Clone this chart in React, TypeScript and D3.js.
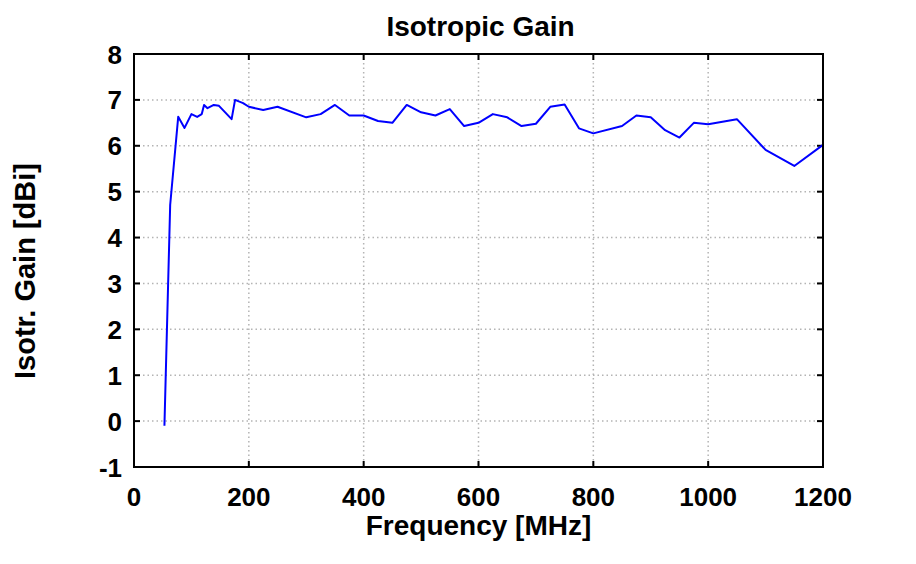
import React from "react";
import * as d3 from "d3";

const freq = [53, 63, 77, 88, 100, 110, 118, 122, 128, 139, 148, 170, 176, 190, 200, 225, 250, 300, 325, 350, 375, 400, 425, 450, 475, 500, 525, 550, 575, 600, 625, 650, 675, 700, 725, 750, 775, 800, 850, 875, 900, 925, 950, 975, 1000, 1050, 1100, 1150, 1200];
const gain = [-0.1, 4.71, 6.63, 6.39, 6.69, 6.63, 6.69, 6.89, 6.82, 6.89, 6.87, 6.58, 7.0, 6.93, 6.85, 6.78, 6.85, 6.62, 6.69, 6.89, 6.66, 6.66, 6.54, 6.5, 6.89, 6.73, 6.66, 6.8, 6.43, 6.5, 6.69, 6.62, 6.43, 6.48, 6.85, 6.9, 6.38, 6.27, 6.43, 6.66, 6.62, 6.34, 6.18, 6.5, 6.47, 6.58, 5.91, 5.56, 6.02];
const xTicks = [0, 200, 400, 600, 800, 1000, 1200];
const yTicks = [-1, 0, 1, 2, 3, 4, 5, 6, 7, 8];
const title = "Isotropic Gain";
const xLabel = "Frequency [MHz]";
const yLabel = "Isotr. Gain [dBi]";

const W = 916, H = 564;
const L = 134, R = 823, T = 54, B = 467;
const FONT = "'Liberation Sans', Arial, sans-serif";

export default function App() {
  const x = d3.scaleLinear().domain([0, 1200]).range([L, R]);
  const y = d3.scaleLinear().domain([-1, 8]).range([B, T]);
  const pts = freq.map((f, i) => [f, gain[i]] as [number, number]);
  const line = d3.line<[number, number]>().x(d => x(d[0])).y(d => y(d[1]));
  const tl = 6;
  return (
    <svg width={W} height={H} style={{ position: "absolute", left: 0, top: 0, background: "#fff" }} fontFamily={FONT}>
      <rect x={0} y={0} width={W} height={H} fill="#fff" />
      {xTicks.slice(1, -1).map(t => (
        <line key={"gx" + t} x1={x(t)} x2={x(t)} y1={T} y2={B} stroke="#b4b4b4" strokeWidth={1.5} strokeDasharray="1.5,3" />
      ))}
      {yTicks.slice(1, -1).map(t => (
        <line key={"gy" + t} x1={L} x2={R} y1={y(t)} y2={y(t)} stroke="#b4b4b4" strokeWidth={1.5} strokeDasharray="1.5,3" />
      ))}
      {xTicks.map(t => (
        <g key={"tx" + t}>
          <line x1={x(t)} x2={x(t)} y1={B} y2={B - tl} stroke="#000" strokeWidth={2} />
          <line x1={x(t)} x2={x(t)} y1={T} y2={T + tl} stroke="#000" strokeWidth={2} />
          <text x={x(t)} y={506} textAnchor="middle" fontSize={26} fontWeight="bold">{t}</text>
        </g>
      ))}
      {yTicks.map(t => (
        <g key={"ty" + t}>
          <line x1={L} x2={L + tl} y1={y(t)} y2={y(t)} stroke="#000" strokeWidth={2} />
          <line x1={R} x2={R - tl} y1={y(t)} y2={y(t)} stroke="#000" strokeWidth={2} />
          <text x={122} y={y(t) + 9.5} textAnchor="end" fontSize={26} fontWeight="bold">{t}</text>
        </g>
      ))}
      <path d={line(pts) || ""} fill="none" stroke="#0000ff" strokeWidth={2} strokeLinejoin="round" />
      <rect x={L} y={T} width={R - L} height={B - T} fill="none" stroke="#000" strokeWidth={2} />
      <text x={(L + R) / 2 + 2} y={36} textAnchor="middle" fontSize={28} fontWeight="bold">{title}</text>
      <text x={(L + R) / 2} y={535} textAnchor="middle" fontSize={28} fontWeight="bold">{xLabel}</text>
      <text transform={`translate(34.5,${271}) rotate(-90)`} textAnchor="middle" fontSize={29} fontWeight="bold">{yLabel}</text>
    </svg>
  );
}
